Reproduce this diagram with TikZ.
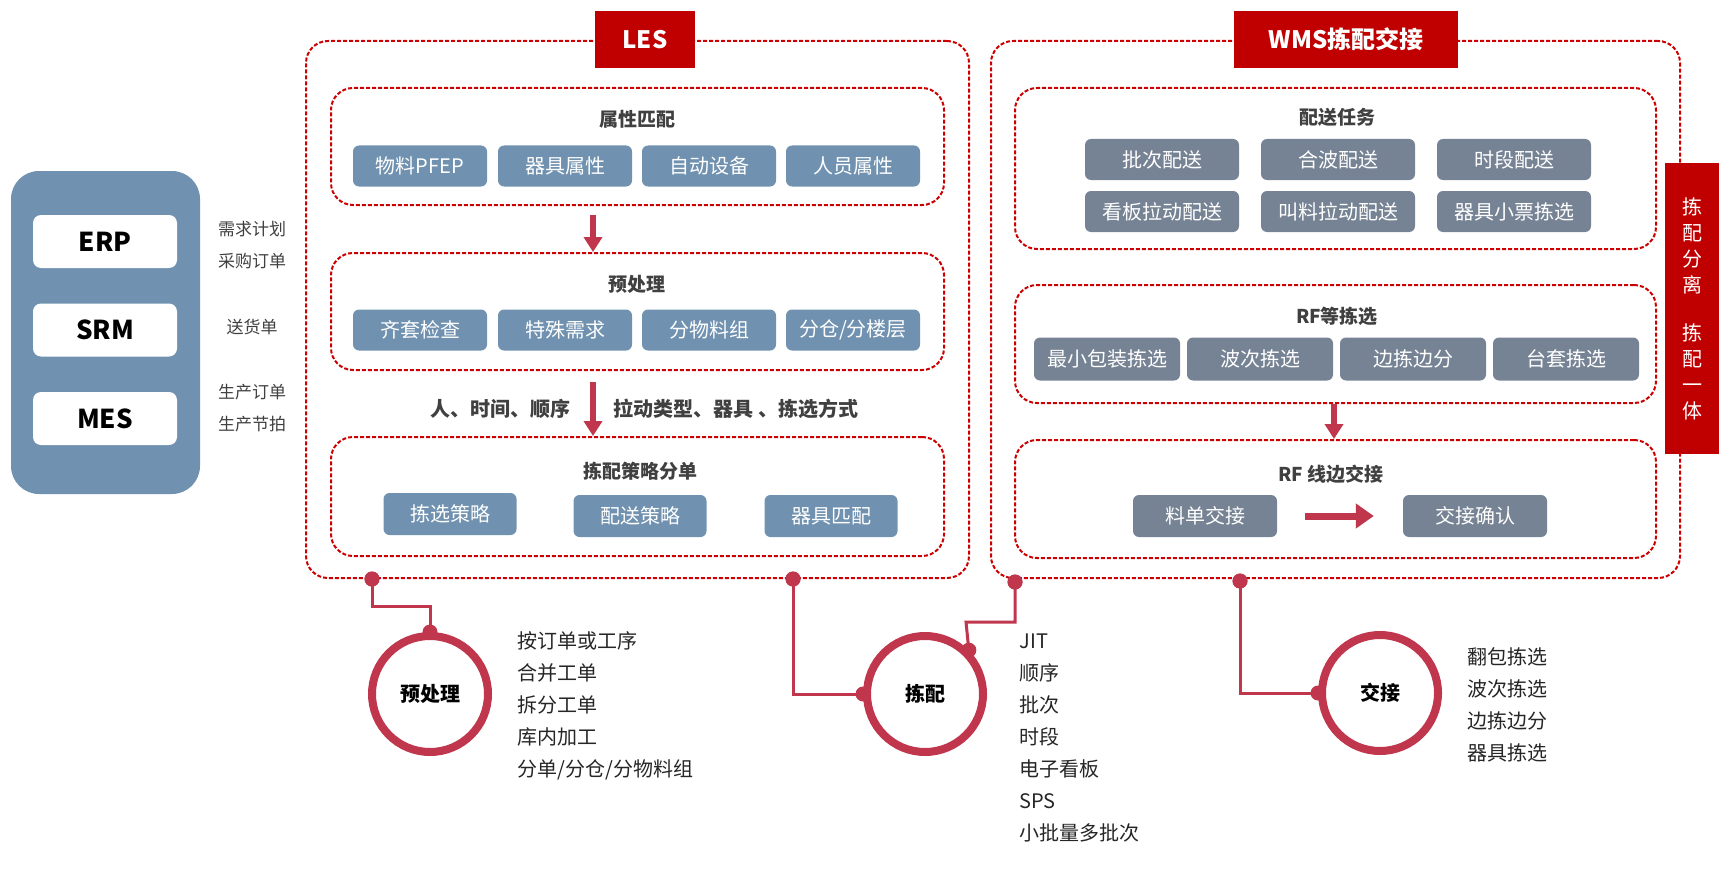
\documentclass[tikz,border=0pt]{standalone}
\usepackage{fontspec}
\setmainfont{Noto Sans CJK SC}
\usetikzlibrary{arrows.meta}
\definecolor{dred}{RGB}{204,0,0}
\definecolor{tred}{RGB}{192,0,0}
\definecolor{bblue}{RGB}{112,146,176}
\definecolor{ggray}{RGB}{118,131,148}
\definecolor{cred}{RGB}{192,54,76}
\definecolor{tgray}{RGB}{64,64,64}
\newcommand{\fsz}[2]{\fontsize{#1}{#2}\selectfont}
\tikzset{
  grp/.style={draw=dred, dash pattern=on 4pt off 2pt, line width=2pt, rounded corners=22pt, rectangle, inner sep=0pt},
  ttlbox/.style={fill=tred, text=white, font=\bfseries\fsz{24}{28}, inner sep=0pt},
  bbox/.style={fill=bblue, rounded corners=6pt, text=white, font=\fsz{20}{24}, minimum height=41pt, inner sep=0pt},
  gbox/.style={fill=ggray, rounded corners=6pt, text=white, font=\fsz{20}{24}, minimum height=41pt, inner sep=0pt},
  gttl/.style={text=tgray, font=\bfseries\fsz{19}{23}},
  sysbox/.style={fill=white, rounded corners=8pt, minimum width=144pt, minimum height=53pt, inner sep=0pt, font=\bfseries\fsz{26}{30}},
  side/.style={text=tgray, font=\fsz{17}{32}, align=center},
  lst/.style={text=black!85, font=\fsz{20}{32}, align=left, anchor=west},
  ring/.style={circle, draw=cred, line width=8pt, fill=white, minimum size=116pt, inner sep=0pt, font=\bfseries\fsz{20}{24}},
  dot/.style={circle, fill=cred, minimum size=15pt, inner sep=0pt},
  conn/.style={draw=cred, line width=3pt},
  bigarrow/.style={draw=cred, line width=6pt, -{Triangle[length=15pt,width=18pt]}},
}
\begin{document}
\begin{tikzpicture}[x=1pt,y=-1pt]
\useasboundingbox (0,0) rectangle (1732,872);

% left system panel
\node[fill=bblue, rounded corners=28pt, minimum width=189pt, minimum height=323pt, inner sep=0pt] (sys) at (105.5,332.5) {};
\node[sysbox] (erp) at (105,241.5) {ERP};
\node[sysbox] (srm) at (105,330) {SRM};
\node[sysbox] (mes) at (105,418.5) {MES};
\node[side] (s1) at (252,245) {需求计划\\采购订单};
\node[side] (s2) at (252,327) {送货单};
\node[side] (s3) at (252,408.5) {生产订单\\生产节拍};

% LES
\node[grp, minimum width=663pt, minimum height=537pt] (les) at (637.5,309.5) {};
\node[ttlbox, minimum width=100pt, minimum height=57pt] (lest) at (645,39.5) {LES};
\node[grp, minimum width=613pt, minimum height=117pt] (g1) at (637.5,146.5) {};
\node[grp, minimum width=613pt, minimum height=117pt] (g2) at (637.5,311.5) {};
\node[grp, minimum width=613pt, minimum height=119pt] (g3) at (637.5,496.5) {};
\node[gttl] (g1t) at (637,119) {属性匹配};
\node[gttl] (g2t) at (637,284) {预处理};
\node[gttl] (g3t) at (640,471) {拣配策略分单};

\node[bbox, minimum width=134pt] (a1) at (420,166) {物料PFEP};
\node[bbox, minimum width=134pt] (a2) at (565,166) {器具属性};
\node[bbox, minimum width=134pt] (a3) at (709,166) {自动设备};
\node[bbox, minimum width=134pt] (a4) at (853,166) {人员属性};

\node[bbox, minimum width=134pt] (p1) at (420,330) {齐套检查};
\node[bbox, minimum width=134pt] (p2) at (565,330) {特殊需求};
\node[bbox, minimum width=134pt] (p3) at (709,330) {分物料组};
\node[bbox, minimum width=134pt] (p4) at (853,330) {分仓/分楼层};

\node[bbox, minimum width=133pt, minimum height=42pt] (q1) at (450,514) {拣选策略};
\node[bbox, minimum width=133pt, minimum height=42pt] (q2) at (640,516) {配送策略};
\node[bbox, minimum width=133pt, minimum height=42pt] (q3) at (831,516) {器具匹配};

\coordinate (ax) at (593,0);
\draw[bigarrow, shorten <=9pt] (g1.south -| ax) -- (g2.north -| ax);
\draw[bigarrow, shorten <=11pt] (g2.south -| ax) -- (g3.north -| ax);
\node[gttl, font=\bfseries\fsz{20}{24}, anchor=east] (lab1) at (574,409) {人、时间、顺序};
\node[gttl, font=\bfseries\fsz{20}{24}, anchor=west] (lab2) at (610,409) {拉动类型、器具 、拣选方式};

% WMS
\node[grp, minimum width=689pt, minimum height=537pt] (wms) at (1335.5,309.5) {};
\node[ttlbox, minimum width=224pt, minimum height=57pt] (wmst) at (1346,39.5) {WMS拣配交接};
\node[grp, minimum width=641pt, minimum height=161pt] (w1) at (1335.5,168.5) {};
\node[grp, minimum width=641pt, minimum height=118pt] (w2) at (1335.5,344) {};
\node[grp, minimum width=641pt, minimum height=118pt] (w3) at (1335.5,499) {};
\node[gttl] (w1t) at (1337,117) {配送任务};
\node[gttl] (w2t) at (1337,316) {RF等拣选};
\node[gttl] (w3t) at (1331,474) {RF 线边交接};

\node[gbox, minimum width=154pt] (t1) at (1162,159.5) {批次配送};
\node[gbox, minimum width=154pt] (t2) at (1338,159.5) {合波配送};
\node[gbox, minimum width=154pt] (t3) at (1514,159.5) {时段配送};
\node[gbox, minimum width=154pt] (t4) at (1162,211.5) {看板拉动配送};
\node[gbox, minimum width=154pt] (t5) at (1338,211.5) {叫料拉动配送};
\node[gbox, minimum width=154pt] (t6) at (1514,211.5) {器具小票拣选};

\node[gbox, minimum width=146pt, minimum height=43pt] (r1) at (1107,359) {最小包装拣选};
\node[gbox, minimum width=146pt, minimum height=43pt] (r2) at (1260,359) {波次拣选};
\node[gbox, minimum width=146pt, minimum height=43pt] (r3) at (1413,359) {边拣边分};
\node[gbox, minimum width=146pt, minimum height=43pt] (r4) at (1566,359) {台套拣选};

\node[gbox, minimum width=144pt, minimum height=42pt] (h1) at (1205,516) {料单交接};
\node[gbox, minimum width=144pt, minimum height=42pt] (h2) at (1475,516) {交接确认};

\coordinate (bx) at (1334,0);
\draw[bigarrow] (w2.south -| bx) -- (w3.north -| bx);
\draw[draw=cred, line width=7pt, -{Triangle[length=18pt,width=24pt]}, shorten <=28pt, shorten >=29pt] (h1.east) -- (h2.west);

% vertical red box
\node[fill=tred, text=white, minimum width=54pt, minimum height=291pt, inner sep=0pt, align=center, font=\fsz{20}{26}] (vbox) at (1692,308.5) {拣\\配\\分\\离\\[22pt]拣\\配\\一\\体};

% timeline
\node[ring] (c1) at (430,694) {预处理};
\node[ring] (c2) at (925,694) {拣配};
\node[ring] (c3) at (1380,693) {交接};

\node[dot] (d1) at (372,579) {};
\node[dot] (d2) at (793,579) {};
\node[dot] (d3) at (1015,582) {};
\node[dot] (d4) at (1240,581) {};

\coordinate (k1) at (430,606);
\coordinate (k3) at (966,622);
\draw[conn] (d1.center) |- (k1) -- (c1.north);
\draw[conn] (d2.center) |- (c2.west);
\draw[conn] (d3.center) |- (k3) -- (c2.45);
\draw[conn] (d4.center) |- (c3.west);

\node[dot] (e1) at (c1.north) {};
\node[dot] (e2) at (c2.west) {};
\node[dot] (e3) at (c2.45) {};
\node[dot] (e4) at (c3.west) {};
\node[dot] (d1b) at (d1) {};
\node[dot] (d2b) at (d2) {};
\node[dot] (d3b) at (d3) {};
\node[dot] (d4b) at (d4) {};

\node[lst] (l1) at (514,706) {按订单或工序\\合并工单\\拆分工单\\库内加工\\分单/分仓/分物料组};
\node[lst] (l2) at (1016,738.5) {JIT\\顺序\\批次\\时段\\电子看板\\SPS\\小批量多批次};
\node[lst] (l3) at (1464,705) {翻包拣选\\波次拣选\\边拣边分\\器具拣选};
\end{tikzpicture}
\end{document}
